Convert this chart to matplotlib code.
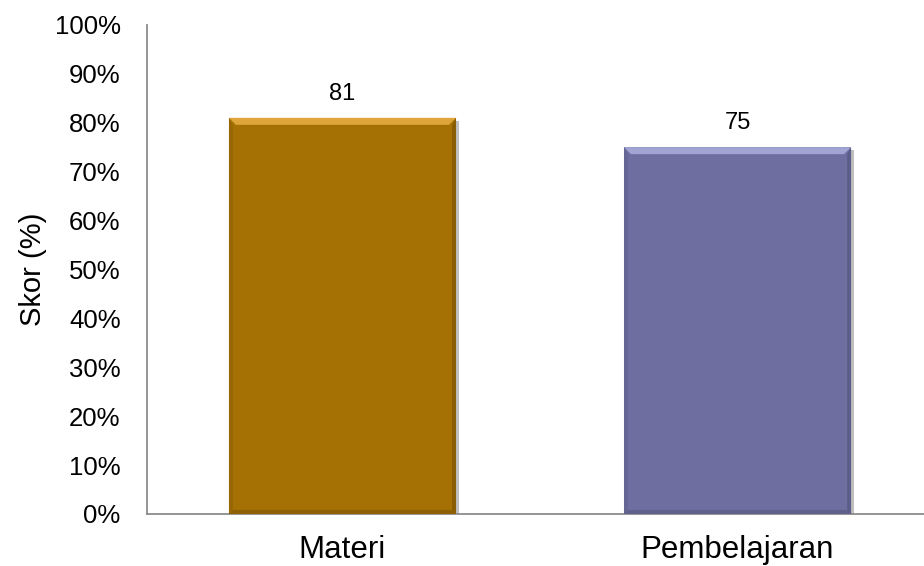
import matplotlib
matplotlib.use("Agg")
import matplotlib.pyplot as plt
from matplotlib.patches import Polygon
from matplotlib.ticker import PercentFormatter

categories = ["Materi", "Pembelajaran"]
scores = [0.81, 0.75]
score_labels = ["81", "75"]
colors = ["#A57104", "#6E6FA0"]
highlight = ["#E0A53A", "#A2A4D4"]
shade = ["#7E5603", "#55567F"]

plt.rcParams['font.family'] = ['Liberation Sans', 'DejaVu Sans']

fig = plt.figure(figsize=(9.24, 5.66), dpi=100)
ax = fig.add_axes([0.159, 0.092, 0.841, 0.864])

bars = ax.bar(categories, scores, width=0.575, color=colors, zorder=3)

ax.set_xlim(-0.495, 1.472)
ax.set_ylim(0, 1.0)
ax.set_yticks([i / 10 for i in range(11)])
ax.yaxis.set_major_formatter(PercentFormatter(1.0, decimals=0))
ax.tick_params(axis='y', length=0, pad=19, labelsize=18.5)
ax.tick_params(axis='x', length=0, pad=15, labelsize=22.5)
ax.set_ylabel("Skor (%)", fontsize=21)
ax.yaxis.set_label_coords(-0.129, 0.5)

for s in ["top", "right"]:
    ax.spines[s].set_visible(False)
for s in ["left", "bottom"]:
    ax.spines[s].set_color("#8c8c8c")
    ax.spines[s].set_linewidth(1.3)

# bevel look, built from each bar's own geometry in display pixels
fig.canvas.draw()
bev = 7
for b, hi, sh in zip(bars, highlight, shade):
    (x0, y0), (x1, y1) = ax.transData.transform([(b.get_x(), 0), (b.get_x() + b.get_width(), b.get_height())])
    # drop shadow
    ax.add_patch(Polygon([(x0 + 3, y0), (x1 + 3, y0), (x1 + 3, y1 - 3), (x0 + 3, y1 - 3)],
                         closed=True, transform=None, facecolor="#000000", alpha=0.25, zorder=2, lw=0))
    ax.add_patch(Polygon([(x0, y1), (x1, y1), (x1 - bev, y1 - bev), (x0 + bev, y1 - bev)],
                         closed=True, transform=None, facecolor=hi, zorder=4, lw=0))
    ax.add_patch(Polygon([(x1, y1), (x1, y0), (x1 - 4, y0 + 4), (x1 - 4, y1 - bev)],
                         closed=True, transform=None, facecolor=sh, alpha=0.7, zorder=4, lw=0))
    ax.add_patch(Polygon([(x0, y1), (x0, y0), (x0 + 4, y0 + 4), (x0 + 4, y1 - bev)],
                         closed=True, transform=None, facecolor=sh, alpha=0.35, zorder=4, lw=0))
    ax.add_patch(Polygon([(x0, y0), (x1, y0), (x1 - 4, y0 + 4), (x0 + 4, y0 + 4)],
                         closed=True, transform=None, facecolor=sh, alpha=0.6, zorder=4, lw=0))

for b, lab in zip(bars, score_labels):
    ax.annotate(lab, (b.get_x() + b.get_width() / 2, b.get_height()),
                xytext=(0, 9.5), textcoords="offset points",
                ha="center", va="bottom", fontsize=17, zorder=5)

fig.savefig("out.png", dpi=100)
